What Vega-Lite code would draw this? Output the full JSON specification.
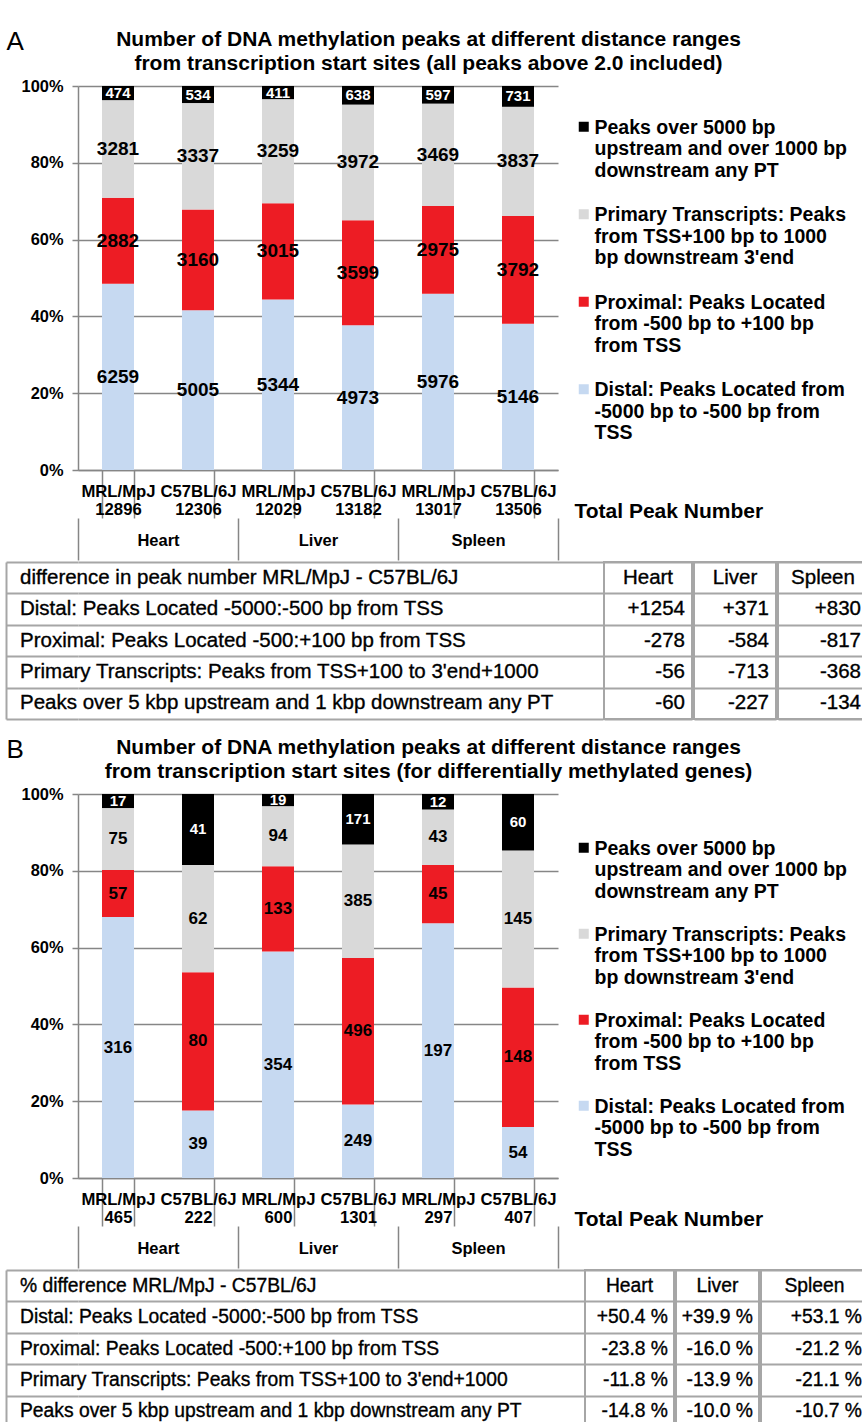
{
 "$schema": "https://vega.github.io/schema/vega-lite/v6.json",
 "background": "white",
 "padding": {"left": 5, "top": 28, "right": 0, "bottom": 0},
 "config": {
  "font": "Liberation Sans",
  "view": {"stroke": null},
  "title": {"font": "Liberation Sans", "color": "black"},
  "axis": {"labelFont": "Liberation Sans", "titleFont": "Liberation Sans", "labelColor": "black", "titleColor": "black"},
  "legend": {"labelFont": "Liberation Sans", "labelColor": "black"},
  "text": {"font": "Liberation Sans", "color": "black"}
 },
 "datasets": {
  "bars": [
   {"p":"A","tissue":"Heart","bar":"MRL/MpJ|12896","cat":"Distal","n":6259},
   {"p":"A","tissue":"Heart","bar":"MRL/MpJ|12896","cat":"Proximal","n":2882},
   {"p":"A","tissue":"Heart","bar":"MRL/MpJ|12896","cat":"Primary","n":3281},
   {"p":"A","tissue":"Heart","bar":"MRL/MpJ|12896","cat":"Peaks","n":474},
   {"p":"A","tissue":"Heart","bar":"C57BL/6J|12306","cat":"Distal","n":5005},
   {"p":"A","tissue":"Heart","bar":"C57BL/6J|12306","cat":"Proximal","n":3160},
   {"p":"A","tissue":"Heart","bar":"C57BL/6J|12306","cat":"Primary","n":3337},
   {"p":"A","tissue":"Heart","bar":"C57BL/6J|12306","cat":"Peaks","n":534},
   {"p":"A","tissue":"Liver","bar":"MRL/MpJ|12029","cat":"Distal","n":5344},
   {"p":"A","tissue":"Liver","bar":"MRL/MpJ|12029","cat":"Proximal","n":3015},
   {"p":"A","tissue":"Liver","bar":"MRL/MpJ|12029","cat":"Primary","n":3259},
   {"p":"A","tissue":"Liver","bar":"MRL/MpJ|12029","cat":"Peaks","n":411},
   {"p":"A","tissue":"Liver","bar":"C57BL/6J|13182","cat":"Distal","n":4973},
   {"p":"A","tissue":"Liver","bar":"C57BL/6J|13182","cat":"Proximal","n":3599},
   {"p":"A","tissue":"Liver","bar":"C57BL/6J|13182","cat":"Primary","n":3972},
   {"p":"A","tissue":"Liver","bar":"C57BL/6J|13182","cat":"Peaks","n":638},
   {"p":"A","tissue":"Spleen","bar":"MRL/MpJ|13017","cat":"Distal","n":5976},
   {"p":"A","tissue":"Spleen","bar":"MRL/MpJ|13017","cat":"Proximal","n":2975},
   {"p":"A","tissue":"Spleen","bar":"MRL/MpJ|13017","cat":"Primary","n":3469},
   {"p":"A","tissue":"Spleen","bar":"MRL/MpJ|13017","cat":"Peaks","n":597},
   {"p":"A","tissue":"Spleen","bar":"C57BL/6J|13506","cat":"Distal","n":5146},
   {"p":"A","tissue":"Spleen","bar":"C57BL/6J|13506","cat":"Proximal","n":3792},
   {"p":"A","tissue":"Spleen","bar":"C57BL/6J|13506","cat":"Primary","n":3837},
   {"p":"A","tissue":"Spleen","bar":"C57BL/6J|13506","cat":"Peaks","n":731},
   {"p":"B","tissue":"Heart","bar":"MRL/MpJ|465","cat":"Distal","n":316},
   {"p":"B","tissue":"Heart","bar":"MRL/MpJ|465","cat":"Proximal","n":57},
   {"p":"B","tissue":"Heart","bar":"MRL/MpJ|465","cat":"Primary","n":75},
   {"p":"B","tissue":"Heart","bar":"MRL/MpJ|465","cat":"Peaks","n":17},
   {"p":"B","tissue":"Heart","bar":"C57BL/6J|222","cat":"Distal","n":39},
   {"p":"B","tissue":"Heart","bar":"C57BL/6J|222","cat":"Proximal","n":80},
   {"p":"B","tissue":"Heart","bar":"C57BL/6J|222","cat":"Primary","n":62},
   {"p":"B","tissue":"Heart","bar":"C57BL/6J|222","cat":"Peaks","n":41},
   {"p":"B","tissue":"Liver","bar":"MRL/MpJ|600","cat":"Distal","n":354},
   {"p":"B","tissue":"Liver","bar":"MRL/MpJ|600","cat":"Proximal","n":133},
   {"p":"B","tissue":"Liver","bar":"MRL/MpJ|600","cat":"Primary","n":94},
   {"p":"B","tissue":"Liver","bar":"MRL/MpJ|600","cat":"Peaks","n":19},
   {"p":"B","tissue":"Liver","bar":"C57BL/6J|1301","cat":"Distal","n":249},
   {"p":"B","tissue":"Liver","bar":"C57BL/6J|1301","cat":"Proximal","n":496},
   {"p":"B","tissue":"Liver","bar":"C57BL/6J|1301","cat":"Primary","n":385},
   {"p":"B","tissue":"Liver","bar":"C57BL/6J|1301","cat":"Peaks","n":171},
   {"p":"B","tissue":"Spleen","bar":"MRL/MpJ|297","cat":"Distal","n":197},
   {"p":"B","tissue":"Spleen","bar":"MRL/MpJ|297","cat":"Proximal","n":45},
   {"p":"B","tissue":"Spleen","bar":"MRL/MpJ|297","cat":"Primary","n":43},
   {"p":"B","tissue":"Spleen","bar":"MRL/MpJ|297","cat":"Peaks","n":12},
   {"p":"B","tissue":"Spleen","bar":"C57BL/6J|407","cat":"Distal","n":54},
   {"p":"B","tissue":"Spleen","bar":"C57BL/6J|407","cat":"Proximal","n":148},
   {"p":"B","tissue":"Spleen","bar":"C57BL/6J|407","cat":"Primary","n":145},
   {"p":"B","tissue":"Spleen","bar":"C57BL/6J|407","cat":"Peaks","n":60}
  ],
  "tab": [
   {"t":"A","label":"difference in peak number MRL/MpJ - C57BL/6J","tissue":"Heart","val":"Heart"},
   {"t":"A","label":"difference in peak number MRL/MpJ - C57BL/6J","tissue":"Liver","val":"Liver"},
   {"t":"A","label":"difference in peak number MRL/MpJ - C57BL/6J","tissue":"Spleen","val":"Spleen"},
   {"t":"A","label":"Distal: Peaks Located  -5000:-500 bp from TSS","tissue":"Heart","val":"+1254"},
   {"t":"A","label":"Distal: Peaks Located  -5000:-500 bp from TSS","tissue":"Liver","val":"+371"},
   {"t":"A","label":"Distal: Peaks Located  -5000:-500 bp from TSS","tissue":"Spleen","val":"+830"},
   {"t":"A","label":"Proximal: Peaks Located  -500:+100 bp from TSS","tissue":"Heart","val":"-278"},
   {"t":"A","label":"Proximal: Peaks Located  -500:+100 bp from TSS","tissue":"Liver","val":"-584"},
   {"t":"A","label":"Proximal: Peaks Located  -500:+100 bp from TSS","tissue":"Spleen","val":"-817"},
   {"t":"A","label":"Primary Transcripts: Peaks from  TSS+100 to 3'end+1000","tissue":"Heart","val":"-56"},
   {"t":"A","label":"Primary Transcripts: Peaks from  TSS+100 to 3'end+1000","tissue":"Liver","val":"-713"},
   {"t":"A","label":"Primary Transcripts: Peaks from  TSS+100 to 3'end+1000","tissue":"Spleen","val":"-368"},
   {"t":"A","label":"Peaks over 5 kbp upstream and 1 kbp downstream any PT","tissue":"Heart","val":"-60"},
   {"t":"A","label":"Peaks over 5 kbp upstream and 1 kbp downstream any PT","tissue":"Liver","val":"-227"},
   {"t":"A","label":"Peaks over 5 kbp upstream and 1 kbp downstream any PT","tissue":"Spleen","val":"-134"},
   {"t":"B","label":"% difference MRL/MpJ - C57BL/6J","tissue":"Heart","val":"Heart"},
   {"t":"B","label":"% difference MRL/MpJ - C57BL/6J","tissue":"Liver","val":"Liver"},
   {"t":"B","label":"% difference MRL/MpJ - C57BL/6J","tissue":"Spleen","val":"Spleen"},
   {"t":"B","label":"Distal: Peaks Located  -5000:-500 bp from TSS","tissue":"Heart","val":"+50.4 %"},
   {"t":"B","label":"Distal: Peaks Located  -5000:-500 bp from TSS","tissue":"Liver","val":"+39.9 %"},
   {"t":"B","label":"Distal: Peaks Located  -5000:-500 bp from TSS","tissue":"Spleen","val":"+53.1 %"},
   {"t":"B","label":"Proximal: Peaks Located  -500:+100 bp from TSS","tissue":"Heart","val":"-23.8 %"},
   {"t":"B","label":"Proximal: Peaks Located  -500:+100 bp from TSS","tissue":"Liver","val":"-16.0 %"},
   {"t":"B","label":"Proximal: Peaks Located  -500:+100 bp from TSS","tissue":"Spleen","val":"-21.2 %"},
   {"t":"B","label":"Primary Transcripts: Peaks from  TSS+100 to 3'end+1000","tissue":"Heart","val":"-11.8 %"},
   {"t":"B","label":"Primary Transcripts: Peaks from  TSS+100 to 3'end+1000","tissue":"Liver","val":"-13.9 %"},
   {"t":"B","label":"Primary Transcripts: Peaks from  TSS+100 to 3'end+1000","tissue":"Spleen","val":"-21.1 %"},
   {"t":"B","label":"Peaks over 5 kbp upstream and 1 kbp downstream any PT","tissue":"Heart","val":"-14.8 %"},
   {"t":"B","label":"Peaks over 5 kbp upstream and 1 kbp downstream any PT","tissue":"Liver","val":"-10.0 %"},
   {"t":"B","label":"Peaks over 5 kbp upstream and 1 kbp downstream any PT","tissue":"Spleen","val":"-10.7 %"}
  ]
 },
 "spacing": 16,
 "align": "none",
 "resolve": {"legend": {"color": "independent"}},
 "vconcat": [
  {"spacing": 0, "align": "none", "resolve": {"legend": {"color": "independent"}}, "vconcat": [
   {
    "width": 480, "height": 384,
    "title": {"text": ["Number of DNA methylation peaks at different distance ranges", "from transcription start sites (all peaks above 2.0  included)"], "anchor": "middle", "frame": "bounds", "fontSize": 21, "fontWeight": "bold", "lineHeight": 24, "offset": -46},
    "data": {"name": "bars"},
    "transform": [{"filter": "datum.p=='A'"}, {"calculate": "indexof(['Distal','Proximal','Primary','Peaks'], datum.cat)", "as": "so"}],
    "layer": [
     {"layer": [
      {"mark": {"type": "bar"},
       "encoding": {
        "x": {"field": "bar", "type": "nominal", "sort": null, "scale": {"paddingInner": 0.6, "paddingOuter": 0.3},
              "axis": {"orient": "bottom", "title": "Total Peak Number", "titleX": 496, "titleY": 47, "titleAlign": "left", "titleAnchor": "start", "titleBaseline": "alphabetic", "titleFontSize": 21, "titleFontWeight": "bold", "labelExpr": "split(datum.label, '|')", "labelAngle": 0, "labelFontSize": 16.7, "labelFontWeight": "bold", "labelLineHeight": 18, "labelPadding": -35, "labelOverlap": false, "tickBand": "extent", "tickSize": 48, "tickColor": "#868686", "tickWidth": 1.5, "domainColor": "#868686", "domainWidth": 1.5, "grid": false}},
        "y": {"field": "n", "type": "quantitative", "stack": "normalize",
              "axis": {"title": "A", "titleAngle": 0, "titleX": -72, "titleY": -37, "titleAlign": "left", "titleBaseline": "alphabetic", "titleFontSize": 26, "titleFontWeight": "normal", "format": ".0%", "values": [0, 0.1, 0.2, 0.3, 0.4, 0.5, 0.6, 0.7, 0.8, 0.9, 1], "labelOverlap": false, "labelFontSize": 16.4, "labelFontWeight": "bold", "labelPadding": 9, "tickSize": 6, "tickColor": "#868686", "tickWidth": 1.5, "grid": true, "gridColor": "#868686", "gridWidth": 1.5, "gridOpacity": 1, "domainColor": "#868686", "domainWidth": 1.5}},
        "color": {"field": "cat", "type": "nominal",
                  "scale": {"domain": ["Peaks", "Primary", "Proximal", "Distal"], "range": ["#000000", "#d9d9d9", "#ed1c24", "#c6d9f1"]},
                  "legend": {"orient": "none", "legendX": 496, "legendY": 38, "title": null, "labelExpr": "datum.label=='Peaks' ? ['Peaks over 5000 bp','upstream and over 1000 bp','downstream any PT'] : datum.label=='Primary' ? ['Primary Transcripts: Peaks','from TSS+100 bp to 1000',\"bp downstream 3'end\"] : datum.label=='Proximal' ? ['Proximal: Peaks Located','from -500 bp to +100 bp','from TSS'] : ['Distal: Peaks Located  from','-5000 bp to -500 bp  from','TSS']", "labelFontSize": 19.5, "labelFontWeight": "bold", "labelLineHeight": 21.5, "labelLimit": 400, "labelBaseline": "alphabetic", "labelOffset": 1, "symbolType": "M-1,-2.4H1V-0.4H-1Z", "symbolSize": 100, "symbolStrokeWidth": 0, "symbolOpacity": 1, "rowPadding": 23.5}},
        "order": {"field": "so", "type": "quantitative", "sort": "ascending"}
       }},
      {"mark": {"type": "text", "fontWeight": "bold", "baseline": "middle"},
       "encoding": {
        "x": {"field": "bar", "type": "nominal", "sort": null},
        "y": {"field": "n", "type": "quantitative", "stack": "normalize", "bandPosition": 0.5},
        "detail": {"field": "cat"},
        "order": {"field": "so", "type": "quantitative", "sort": "ascending"},
        "text": {"field": "n", "type": "quantitative", "format": "d"},
        "color": {"condition": {"test": "datum.cat=='Peaks'", "value": "white"}, "value": "black"},
        "size": {"condition": {"test": "datum.cat=='Peaks'", "value": 15}, "value": 19}
       }}
     ]},
     {"mark": {"type": "point", "opacity": 0},
      "encoding": {
       "x": {"field": "tissue", "type": "nominal", "sort": null, "scale": {"type": "band", "paddingInner": 0, "paddingOuter": 0},
             "axis": {"orient": "bottom", "offset": 48, "domain": false, "tickBand": "extent", "tickSize": 42, "tickColor": "#868686", "tickWidth": 1.5, "labelPadding": -28, "labelFontSize": 16.5, "labelFontWeight": "bold", "labelAngle": 0, "title": null, "grid": false}}
      }}
    ],
    "resolve": {"scale": {"x": "independent"}}
   },
   {"spacing": 0, "hconcat": [
    {"width": 525, "height": 157,
     "data": {"name": "tab"},
     "transform": [{"filter": "datum.t=='A' && datum.tissue=='Heart'"}],
     "layer": [
      {"mark": {"type": "text", "align": "left", "dx": -58, "fontSize": 20.5, "baseline": "middle", "stroke": "black", "strokeWidth": 0.35},
       "encoding": {
        "y": {"field": "label", "type": "nominal", "sort": null, "bandPosition": 0.5, "scale": {"type": "band", "paddingInner": 0, "paddingOuter": 0}, "axis": {"grid": true, "tickBand": "extent", "labels": false, "ticks": true, "tickSize": 72, "tickColor": "#a6a6a6", "tickWidth": 2, "domain": false, "title": null, "gridColor": "#a6a6a6", "gridWidth": 2}},
        "x": {"datum": 0, "type": "quantitative", "scale": {"domain": [0, 1]}, "axis": null},
        "text": {"field": "label"}
       }},
      {"mark": {"type": "point", "opacity": 0},
       "encoding": {
        "y": {"field": "label", "type": "nominal", "sort": null, "scale": {"type": "band", "paddingInner": 0, "paddingOuter": 0}, "axis": {"orient": "left", "offset": 72, "domain": true, "domainColor": "#a6a6a6", "domainWidth": 2, "ticks": false, "labels": false, "grid": false, "title": null}}
       }}
     ],
     "resolve": {"scale": {"y": "independent"}}
    },
    {"width": 88, "height": 157, "view": {"stroke": "#a6a6a6", "strokeWidth": 2},
     "data": {"name": "tab"},
     "transform": [{"filter": "datum.t=='A' && datum.tissue=='Heart'"}],
     "encoding": {"y": {"field": "label", "type": "nominal", "sort": null, "bandPosition": 0.5, "scale": {"type": "band", "paddingInner": 0, "paddingOuter": 0}, "axis": {"grid": true, "tickBand": "extent", "labels": false, "ticks": false, "domain": false, "title": null, "gridColor": "#a6a6a6", "gridWidth": 2}}},
     "layer": [
      {"mark": {"type": "text", "align": "right", "dx": -7, "fontSize": 20.5, "baseline": "middle", "stroke": "black", "strokeWidth": 0.35}, "encoding": {"x": {"datum": 1, "type": "quantitative", "scale": {"domain": [0, 1]}, "axis": null}, "text": {"condition": {"test": "datum.val==datum.tissue", "value": ""}, "field": "val"}}},
      {"mark": {"type": "text", "align": "center", "fontSize": 20.5, "baseline": "middle", "stroke": "black", "strokeWidth": 0.35}, "encoding": {"text": {"condition": {"test": "datum.val!=datum.tissue", "value": ""}, "field": "val"}}}
     ]},
    {"width": 82, "height": 157, "view": {"stroke": "#a6a6a6", "strokeWidth": 2},
     "data": {"name": "tab"},
     "transform": [{"filter": "datum.t=='A' && datum.tissue=='Liver'"}],
     "encoding": {"y": {"field": "label", "type": "nominal", "sort": null, "bandPosition": 0.5, "scale": {"type": "band", "paddingInner": 0, "paddingOuter": 0}, "axis": {"grid": true, "tickBand": "extent", "labels": false, "ticks": false, "domain": false, "title": null, "gridColor": "#a6a6a6", "gridWidth": 2}}},
     "layer": [
      {"mark": {"type": "text", "align": "right", "dx": -7, "fontSize": 20.5, "baseline": "middle", "stroke": "black", "strokeWidth": 0.35}, "encoding": {"x": {"datum": 1, "type": "quantitative", "scale": {"domain": [0, 1]}, "axis": null}, "text": {"condition": {"test": "datum.val==datum.tissue", "value": ""}, "field": "val"}}},
      {"mark": {"type": "text", "align": "center", "fontSize": 20.5, "baseline": "middle", "stroke": "black", "strokeWidth": 0.35}, "encoding": {"text": {"condition": {"test": "datum.val!=datum.tissue", "value": ""}, "field": "val"}}}
     ]},
    {"width": 90, "height": 157, "view": {"stroke": "#a6a6a6", "strokeWidth": 2},
     "data": {"name": "tab"},
     "transform": [{"filter": "datum.t=='A' && datum.tissue=='Spleen'"}],
     "encoding": {"y": {"field": "label", "type": "nominal", "sort": null, "bandPosition": 0.5, "scale": {"type": "band", "paddingInner": 0, "paddingOuter": 0}, "axis": {"grid": true, "tickBand": "extent", "labels": false, "ticks": false, "domain": false, "title": null, "gridColor": "#a6a6a6", "gridWidth": 2}}},
     "layer": [
      {"mark": {"type": "text", "align": "right", "dx": -7, "fontSize": 20.5, "baseline": "middle", "stroke": "black", "strokeWidth": 0.35}, "encoding": {"x": {"datum": 1, "type": "quantitative", "scale": {"domain": [0, 1]}, "axis": null}, "text": {"condition": {"test": "datum.val==datum.tissue", "value": ""}, "field": "val"}}},
      {"mark": {"type": "text", "align": "center", "fontSize": 20.5, "baseline": "middle", "stroke": "black", "strokeWidth": 0.35}, "encoding": {"text": {"condition": {"test": "datum.val!=datum.tissue", "value": ""}, "field": "val"}}}
     ]}
   ]}
  ]},
  {"spacing": 0, "align": "none", "resolve": {"legend": {"color": "independent"}}, "vconcat": [
   {
    "width": 480, "height": 384,
    "title": {"text": ["Number of DNA methylation peaks at different distance ranges", "from transcription start sites (for differentially methylated genes)"], "anchor": "middle", "frame": "bounds", "fontSize": 21, "fontWeight": "bold", "lineHeight": 24, "offset": -46},
    "data": {"name": "bars"},
    "transform": [{"filter": "datum.p=='B'"}, {"calculate": "indexof(['Distal','Proximal','Primary','Peaks'], datum.cat)", "as": "so"}],
    "layer": [
     {"layer": [
      {"mark": {"type": "bar"},
       "encoding": {
        "x": {"field": "bar", "type": "nominal", "sort": null, "scale": {"paddingInner": 0.6, "paddingOuter": 0.3},
              "axis": {"orient": "bottom", "title": "Total Peak Number", "titleX": 496, "titleY": 47, "titleAlign": "left", "titleAnchor": "start", "titleBaseline": "alphabetic", "titleFontSize": 21, "titleFontWeight": "bold", "labelExpr": "split(datum.label, '|')", "labelAngle": 0, "labelFontSize": 16.7, "labelFontWeight": "bold", "labelLineHeight": 18, "labelPadding": -35, "labelOverlap": false, "tickBand": "extent", "tickSize": 48, "tickColor": "#868686", "tickWidth": 1.5, "domainColor": "#868686", "domainWidth": 1.5, "grid": false}},
        "y": {"field": "n", "type": "quantitative", "stack": "normalize",
              "axis": {"title": "B", "titleAngle": 0, "titleX": -72, "titleY": -37, "titleAlign": "left", "titleBaseline": "alphabetic", "titleFontSize": 26, "titleFontWeight": "normal", "format": ".0%", "values": [0, 0.1, 0.2, 0.3, 0.4, 0.5, 0.6, 0.7, 0.8, 0.9, 1], "labelOverlap": false, "labelFontSize": 16.4, "labelFontWeight": "bold", "labelPadding": 9, "tickSize": 6, "tickColor": "#868686", "tickWidth": 1.5, "grid": true, "gridColor": "#868686", "gridWidth": 1.5, "gridOpacity": 1, "domainColor": "#868686", "domainWidth": 1.5}},
        "color": {"field": "cat", "type": "nominal",
                  "scale": {"domain": ["Peaks", "Primary", "Proximal", "Distal"], "range": ["#000000", "#d9d9d9", "#ed1c24", "#c6d9f1"]},
                  "legend": {"orient": "none", "legendX": 496, "legendY": 51, "title": null, "labelExpr": "datum.label=='Peaks' ? ['Peaks over 5000 bp','upstream and over 1000 bp','downstream any PT'] : datum.label=='Primary' ? ['Primary Transcripts: Peaks','from TSS+100 bp to 1000',\"bp downstream 3'end\"] : datum.label=='Proximal' ? ['Proximal: Peaks Located','from -500 bp to +100 bp','from TSS'] : ['Distal: Peaks Located  from','-5000 bp to -500 bp  from','TSS']", "labelFontSize": 19.5, "labelFontWeight": "bold", "labelLineHeight": 22.5, "labelLimit": 400, "labelBaseline": "alphabetic", "labelOffset": 1, "symbolType": "M-1,-2.4H1V-0.4H-1Z", "symbolSize": 100, "symbolStrokeWidth": 0, "symbolOpacity": 1, "rowPadding": 22}},
        "order": {"field": "so", "type": "quantitative", "sort": "ascending"}
       }},
      {"mark": {"type": "text", "fontWeight": "bold", "baseline": "middle"},
       "encoding": {
        "x": {"field": "bar", "type": "nominal", "sort": null},
        "y": {"field": "n", "type": "quantitative", "stack": "normalize", "bandPosition": 0.5},
        "detail": {"field": "cat"},
        "order": {"field": "so", "type": "quantitative", "sort": "ascending"},
        "text": {"field": "n", "type": "quantitative", "format": "d"},
        "color": {"condition": {"test": "datum.cat=='Peaks'", "value": "white"}, "value": "black"},
        "size": {"condition": {"test": "datum.cat=='Peaks'", "value": 15}, "value": 17}
       }}
     ]},
     {"mark": {"type": "point", "opacity": 0},
      "encoding": {
       "x": {"field": "tissue", "type": "nominal", "sort": null, "scale": {"type": "band", "paddingInner": 0, "paddingOuter": 0},
             "axis": {"orient": "bottom", "offset": 48, "domain": false, "tickBand": "extent", "tickSize": 42, "tickColor": "#868686", "tickWidth": 1.5, "labelPadding": -28, "labelFontSize": 16.5, "labelFontWeight": "bold", "labelAngle": 0, "title": null, "grid": false}}
      }}
    ],
    "resolve": {"scale": {"x": "independent"}}
   },
   {"spacing": 0, "hconcat": [
    {"width": 506, "height": 157,
     "data": {"name": "tab"},
     "transform": [{"filter": "datum.t=='B' && datum.tissue=='Heart'"}],
     "layer": [
      {"mark": {"type": "text", "align": "left", "dx": -58, "fontSize": 19.3, "baseline": "middle", "stroke": "black", "strokeWidth": 0.35},
       "encoding": {
        "y": {"field": "label", "type": "nominal", "sort": null, "bandPosition": 0.5, "scale": {"type": "band", "paddingInner": 0, "paddingOuter": 0}, "axis": {"grid": true, "tickBand": "extent", "labels": false, "ticks": true, "tickSize": 72, "tickColor": "#a6a6a6", "tickWidth": 2, "domain": false, "title": null, "gridColor": "#a6a6a6", "gridWidth": 2}},
        "x": {"datum": 0, "type": "quantitative", "scale": {"domain": [0, 1]}, "axis": null},
        "text": {"field": "label"}
       }},
      {"mark": {"type": "point", "opacity": 0},
       "encoding": {
        "y": {"field": "label", "type": "nominal", "sort": null, "scale": {"type": "band", "paddingInner": 0, "paddingOuter": 0}, "axis": {"orient": "left", "offset": 72, "domain": true, "domainColor": "#a6a6a6", "domainWidth": 2, "ticks": false, "labels": false, "grid": false, "title": null}}
       }}
     ],
     "resolve": {"scale": {"y": "independent"}}
    },
    {"width": 89, "height": 157, "view": {"stroke": "#a6a6a6", "strokeWidth": 2},
     "data": {"name": "tab"},
     "transform": [{"filter": "datum.t=='B' && datum.tissue=='Heart'"}],
     "encoding": {"y": {"field": "label", "type": "nominal", "sort": null, "bandPosition": 0.5, "scale": {"type": "band", "paddingInner": 0, "paddingOuter": 0}, "axis": {"grid": true, "tickBand": "extent", "labels": false, "ticks": false, "domain": false, "title": null, "gridColor": "#a6a6a6", "gridWidth": 2}}},
     "layer": [
      {"mark": {"type": "text", "align": "right", "dx": -6, "fontSize": 19.3, "baseline": "middle", "stroke": "black", "strokeWidth": 0.35}, "encoding": {"x": {"datum": 1, "type": "quantitative", "scale": {"domain": [0, 1]}, "axis": null}, "text": {"condition": {"test": "datum.val==datum.tissue", "value": ""}, "field": "val"}}},
      {"mark": {"type": "text", "align": "center", "fontSize": 19.3, "baseline": "middle", "stroke": "black", "strokeWidth": 0.35}, "encoding": {"text": {"condition": {"test": "datum.val!=datum.tissue", "value": ""}, "field": "val"}}}
     ]},
    {"width": 83, "height": 157, "view": {"stroke": "#a6a6a6", "strokeWidth": 2},
     "data": {"name": "tab"},
     "transform": [{"filter": "datum.t=='B' && datum.tissue=='Liver'"}],
     "encoding": {"y": {"field": "label", "type": "nominal", "sort": null, "bandPosition": 0.5, "scale": {"type": "band", "paddingInner": 0, "paddingOuter": 0}, "axis": {"grid": true, "tickBand": "extent", "labels": false, "ticks": false, "domain": false, "title": null, "gridColor": "#a6a6a6", "gridWidth": 2}}},
     "layer": [
      {"mark": {"type": "text", "align": "right", "dx": -6, "fontSize": 19.3, "baseline": "middle", "stroke": "black", "strokeWidth": 0.35}, "encoding": {"x": {"datum": 1, "type": "quantitative", "scale": {"domain": [0, 1]}, "axis": null}, "text": {"condition": {"test": "datum.val==datum.tissue", "value": ""}, "field": "val"}}},
      {"mark": {"type": "text", "align": "center", "fontSize": 19.3, "baseline": "middle", "stroke": "black", "strokeWidth": 0.35}, "encoding": {"text": {"condition": {"test": "datum.val!=datum.tissue", "value": ""}, "field": "val"}}}
     ]},
    {"width": 107, "height": 157, "view": {"stroke": "#a6a6a6", "strokeWidth": 2},
     "data": {"name": "tab"},
     "transform": [{"filter": "datum.t=='B' && datum.tissue=='Spleen'"}],
     "encoding": {"y": {"field": "label", "type": "nominal", "sort": null, "bandPosition": 0.5, "scale": {"type": "band", "paddingInner": 0, "paddingOuter": 0}, "axis": {"grid": true, "tickBand": "extent", "labels": false, "ticks": false, "domain": false, "title": null, "gridColor": "#a6a6a6", "gridWidth": 2}}},
     "layer": [
      {"mark": {"type": "text", "align": "right", "dx": -6, "fontSize": 19.3, "baseline": "middle", "stroke": "black", "strokeWidth": 0.35}, "encoding": {"x": {"datum": 1, "type": "quantitative", "scale": {"domain": [0, 1]}, "axis": null}, "text": {"condition": {"test": "datum.val==datum.tissue", "value": ""}, "field": "val"}}},
      {"mark": {"type": "text", "align": "center", "fontSize": 19.3, "baseline": "middle", "stroke": "black", "strokeWidth": 0.35}, "encoding": {"text": {"condition": {"test": "datum.val!=datum.tissue", "value": ""}, "field": "val"}}}
     ]}
   ]}
  ]}
 ]
}
